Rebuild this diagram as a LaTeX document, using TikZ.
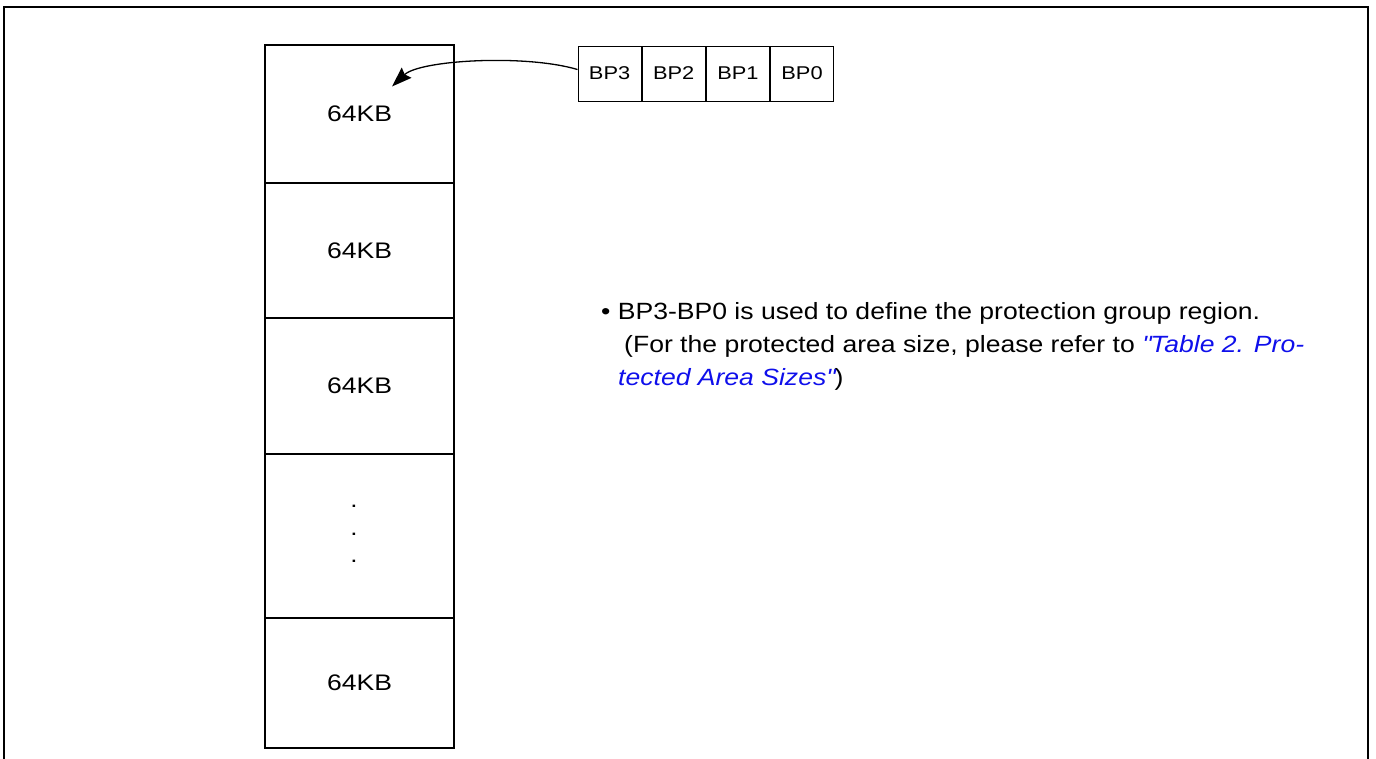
\documentclass[tikz,border=0pt]{standalone}
\usepackage{fontspec}
\setmainfont{Liberation Sans}[FakeStretch=1.18]
\newfontfamily\notefont{Liberation Sans}[FakeStretch=1.13]
\usetikzlibrary{arrows.meta}
\definecolor{linkblue}{RGB}{15,15,235}
\begin{document}
\begin{tikzpicture}[x=1pt,y=-1pt,
  cell/.style={draw, line width=1.2pt, minimum width=189pt, inner sep=0pt,
    font=\fontsize{22.5}{26}\selectfont},
  bpcell/.style={draw, line width=0.9pt, minimum width=63.25pt, minimum height=55pt,
    inner sep=0pt, font=\fontsize{18.5}{20}\selectfont},
  frameline/.style={line width=1.7pt},
  txt/.style={anchor=base west, inner sep=0pt, font=\notefont\fontsize{23.5}{33}\selectfont},
  link/.style={draw, line width=1.3pt, -{Stealth[length=20pt,width=14pt,inset=2.5pt]}}]
\useasboundingbox (0,0) rectangle (1376,758);
% outer frame (open at the bottom)
\coordinate (fbl) at (4,760);
\coordinate (ftl) at (4,7);
\coordinate (ftr) at (1368,7);
\coordinate (fbr) at (1368,760);
\draw[frameline] (fbl) -- (ftl) -- (ftr) -- (fbr);
% memory column
\node[cell, minimum height=138pt] (c1) at (359.5,114) {64KB};
\node[cell, minimum height=135pt] (c2) at (359.5,250.5) {64KB};
\node[cell, minimum height=136pt] (c3) at (359.5,386) {64KB};
\node[cell, minimum height=164pt] (c4) at (359.5,536) {};
\node[cell, minimum height=130pt] (c5) at (359.5,683) {64KB};
\node[inner sep=0pt, align=center, font=\fontsize{22}{27.5}\selectfont] (dots) at (354,534) {.\\.\\.};
% BP register
\node[bpcell] (bp3) at (609.6,73.5) {BP3};
\node[bpcell, anchor=west] (bp2) at (bp3.east) {BP2};
\node[bpcell, anchor=west] (bp1) at (bp2.east) {BP1};
\node[bpcell, anchor=west] (bp0) at (bp1.east) {BP0};
% arrow
\coordinate (as) at ([yshift=4pt]bp3.west);
\coordinate (ae) at (392,86.5);
\draw[link] (as) .. controls (525,54) and (420,60) .. (ae);
% note
\node[txt] (t1) at (601,319) {\textbullet\ BP3-BP0 is used to define the protection group region.};
\node[txt] (t2) at (624,352) {(For the protected area size, please refer to \textcolor{linkblue}{\itshape \textquotedbl Table 2. Pro-}};
\node[txt] (t3) at (618,385) {\textcolor{linkblue}{\itshape tected Area Sizes\textquotedbl})};
\end{tikzpicture}
\end{document}
